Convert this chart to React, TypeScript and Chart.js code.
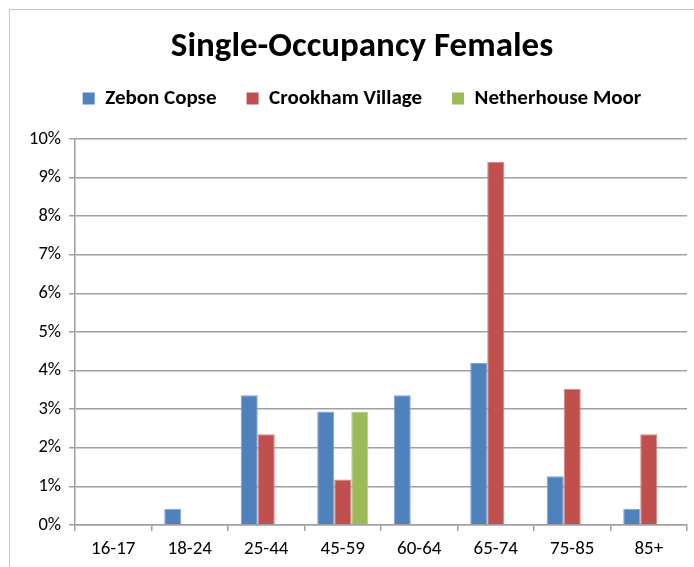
import React, { useEffect, useRef } from "react";
import { Chart, registerables } from "chart.js";

Chart.register(...registerables);

const categories = ["16-17", "18-24", "25-44", "45-59", "60-64", "65-74", "75-85", "85+"];
const zebonCopse = [0, 0.42, 3.36, 2.94, 3.36, 4.2, 1.26, 0.42];
const crookhamVillage = [0, 0, 2.35, 1.18, 0, 9.41, 3.53, 2.35];
const netherhouseMoor = [0, 0, 0, 2.94, 0, 0, 0, 0];
const seriesNames = ["Zebon Copse", "Crookham Village", "Netherhouse Moor"];
const titleText = "Single-Occupancy Females";

const FONT = "Carlito, Lato, 'Open Sans', sans-serif";
const GRID = "#a0a0a0";

export default function App() {
  const ref = useRef<HTMLCanvasElement>(null);
  useEffect(() => {
    if (!ref.current) return;
    const chart = new Chart(ref.current, {
      type: "bar",
      data: {
        labels: categories,
        datasets: [
          { label: seriesNames[0], data: zebonCopse, backgroundColor: "#4F81BD", borderColor: "#7fa3d3", borderWidth: 1 },
          { label: seriesNames[1], data: crookhamVillage, backgroundColor: "#C0504D", borderColor: "#d48381", borderWidth: 1 },
          { label: seriesNames[2], data: netherhouseMoor, backgroundColor: "#9BBB59", borderColor: "#b9d08a", borderWidth: 1 },
        ],
      },
      options: {
        responsive: false,
        animation: false,
        layout: { padding: { left: 0, right: 0, top: 0, bottom: 0 } },
        datasets: { bar: { categoryPercentage: 0.667, barPercentage: 1 } },
        plugins: {
          title: {
            display: true,
            text: titleText,
            color: "#000",
            font: { family: FONT, size: 35, weight: "bold", lineHeight: 1.2 },
            padding: { top: 26, bottom: -10 },
          },
          subtitle: {
            display: true,
            text: " ",
            font: { size: 1, lineHeight: 1 },
            padding: { top: 0, bottom: 19 },
          },
          legend: {
            display: true,
            weight: 1800,
            labels: {
              color: "#000",
              font: { family: FONT, size: 21, weight: "bold" },
              boxWidth: 12,
              boxHeight: 12,
              padding: 30,
              generateLabels: (c: any) =>
                Chart.defaults.plugins.legend.labels.generateLabels(c).map((l: any) => ({ ...l, lineWidth: 0 })),
            },
          } as any,
          tooltip: { enabled: false },
        },
        scales: {
          x: {
            grid: {
              display: true,
              drawOnChartArea: false,
              drawTicks: true,
              tickLength: 6,
              color: GRID,
              lineWidth: 1.5,
              offset: true,
            },
            border: { display: true, color: GRID, width: 1.5 },
            ticks: {
              color: "#000",
              font: { family: FONT, size: 19 },
              padding: 7,
              maxRotation: 0,
            },
            afterFit: (s: any) => {
              s.height = 42;
            },
          },
          y: {
            min: 0,
            max: 10,
            grid: { color: GRID, lineWidth: 1.5, tickLength: 6 },
            border: { display: true, color: GRID, width: 1.5 },
            ticks: {
              stepSize: 1,
              color: "#000",
              font: { family: FONT, size: 18.5 },
              padding: 8,
              callback: (v: any) => v + "%",
            },
            afterFit: (s: any) => {
              s.width = 75;
            },
          },
          yRightSpace: {
            type: "linear",
            position: "right",
            display: true,
            grid: { display: false },
            border: { display: false },
            ticks: { display: false },
            afterFit: (s: any) => {
              s.width = 37;
            },
          },
        },
      },
    });
    return () => chart.destroy();
  }, []);
  return (
    <div style={{ position: "fixed", left: 0, top: 0, width: 694, height: 567, overflow: "hidden", background: "#fff" }}>
      <div style={{ position: "absolute", left: 9, top: 9, width: 800, height: 700, border: "1px solid #c8c8c8" }} />
      <canvas ref={ref} width={724} height={567} style={{ position: "absolute", left: 0, top: 0, width: 724, height: 567 }} />
    </div>
  );
}
